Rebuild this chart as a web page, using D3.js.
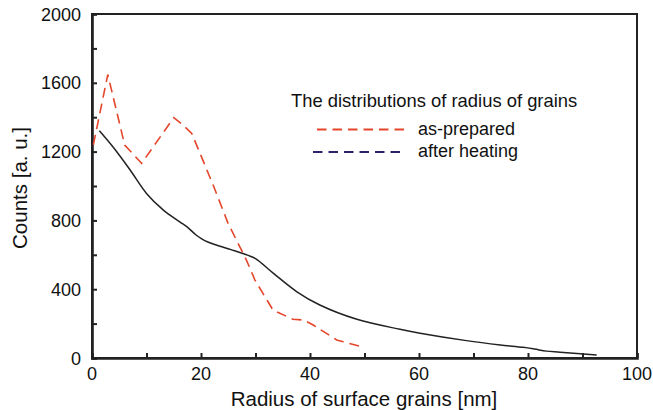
<!DOCTYPE html>
<html>
<head>
<meta charset="utf-8">
<style>
body { margin: 0; background: #fff; }
text { font-family: "Liberation Sans", Arial, sans-serif; fill: #111; }
.frame { fill: none; stroke: #222; stroke-width: 2; }
</style>
</head>
<body>
<svg width="653" height="410"></svg>
<script src="https://cdn.jsdelivr.net/npm/d3@7"></script>
<script>

// as-prepared (red dashed)
var prepX = [0.25, 2.9, 6.0, 9.1, 15.0, 16.5, 18.3, 22.3, 25.0, 26.5, 28.4, 29.9, 32.3, 33.2, 36.9, 38.8, 40.6, 44.9, 46.1, 49.8];
var prepY = [1240, 1648, 1238, 1132, 1397, 1360, 1306, 1000, 780, 686, 565, 453, 327, 279, 225, 221, 192, 105, 95, 62];

// after heating (black solid)
var heatX = [1.35, 3.9, 7.0, 10.0, 13.1, 16.1, 17.6, 19.1, 20.6, 22.5, 25.5, 28.5, 30.0, 33.3, 37.6, 41.8, 48.6, 56.5, 60.2, 68.7, 74.9, 79.1, 81.2, 83.4, 85.9, 92.6];
var heatY = [1321, 1225, 1093, 957, 860, 792, 758, 715, 684, 660, 630, 598, 578, 492, 385, 308, 225, 167, 144, 101, 76, 62, 52, 40, 34, 17];

var xTicks = [0, 20, 40, 60, 80, 100];
var yTicks = [0, 400, 800, 1200, 1600, 2000];

var legendTitle = "The distributions of radius of grains";
var legendNames = ["as-prepared", "after heating"];
var legendColors = ["#e5462b", "#2a2466"];

var svg = d3.select("svg");
// plot box (don't use "top", it's window.top)
var mLeft = 92, mRight = 637, mTop = 14, mBottom = 358;

var x = d3.scaleLinear().domain([0, 100]).range([mLeft, mRight]);
var y = d3.scaleLinear().domain([0, 2000]).range([mBottom, mTop]);

// frame
svg.append("rect").attr("class", "frame")
    .attr("x", mLeft).attr("y", mTop)
    .attr("width", mRight - mLeft).attr("height", mBottom - mTop);

// bottom axis
var xAxis = svg.append("g").attr("transform", "translate(0," + mBottom + ")")
    .call(d3.axisBottom(x).tickValues(d3.range(0, 101, 10)).tickSize(-5).tickFormat(""));
xAxis.select(".domain").attr("stroke", "#222").attr("stroke-width", 2.6);
xAxis.selectAll(".tick line").attr("stroke", "#222").attr("stroke-width", 2);

// left axis
var yAxis = svg.append("g").attr("transform", "translate(" + mLeft + ",0)")
    .call(d3.axisLeft(y).tickValues(d3.range(0, 2001, 200)).tickSize(-5).tickFormat(""));
yAxis.select(".domain").attr("stroke", "#222").attr("stroke-width", 2.6);
yAxis.selectAll(".tick line").attr("stroke", "#222").attr("stroke-width", 2);

// tick labels
svg.selectAll(".xl").data(xTicks).enter().append("text")
    .attr("x", function(d) { return x(d); })
    .attr("y", 379.5)
    .attr("text-anchor", "middle")
    .style("font-size", "18px")
    .text(function(d) { return d; });

svg.selectAll(".yl").data(yTicks).enter().append("text")
    .attr("x", 81)
    .attr("y", function(d) { return y(d) + 6.5; })
    .attr("text-anchor", "end")
    .style("font-size", "18px")
    .text(function(d) { return d; });

// axis titles
svg.append("text")
    .attr("x", 364).attr("y", 406)
    .attr("text-anchor", "middle")
    .style("font-size", "20.5px")
    .text("Radius of surface grains [nm]");

svg.append("text")
    .attr("transform", "translate(27,188) rotate(-90)")
    .attr("text-anchor", "middle")
    .style("font-size", "20.5px")
    .text("Counts [a. u.]");

// curves
var prep = prepX.map(function(d, i) { return [d, prepY[i]]; });
var heat = heatX.map(function(d, i) { return [d, heatY[i]]; });

var line = d3.line()
    .x(function(d) { return x(d[0]); })
    .y(function(d) { return y(d[1]); });

svg.append("path")
    .attr("d", line.curve(d3.curveCatmullRom.alpha(0.5))(heat))
    .attr("fill", "none")
    .attr("stroke", "#222")
    .attr("stroke-width", 1.5);

svg.append("path")
    .attr("d", line.curve(d3.curveLinear)(prep))
    .attr("fill", "none")
    .attr("stroke", legendColors[0])
    .attr("stroke-width", 1.6)
    .attr("stroke-dasharray", "10,6");

// legend
svg.append("text")
    .attr("x", 291).attr("y", 106.5)
    .style("font-size", "18.4px")
    .text(legendTitle);

var lg = svg.selectAll(".lg").data(legendNames).enter().append("g")
    .attr("transform", function(d, i) { return "translate(0," + (129.5 + i * 22.5) + ")"; });

lg.append("line")
    .attr("x1", function(d, i) { return i ? 313 : 317; })
    .attr("x2", function(d, i) { return i ? 400 : 404; })
    .attr("stroke", function(d, i) { return legendColors[i]; })
    .attr("stroke-width", 2)
    .attr("stroke-dasharray", "9.5,6");

lg.append("text")
    .attr("x", 418).attr("y", 5)
    .style("font-size", "18px")
    .text(function(d) { return d; });

</script>
</body>
</html>
